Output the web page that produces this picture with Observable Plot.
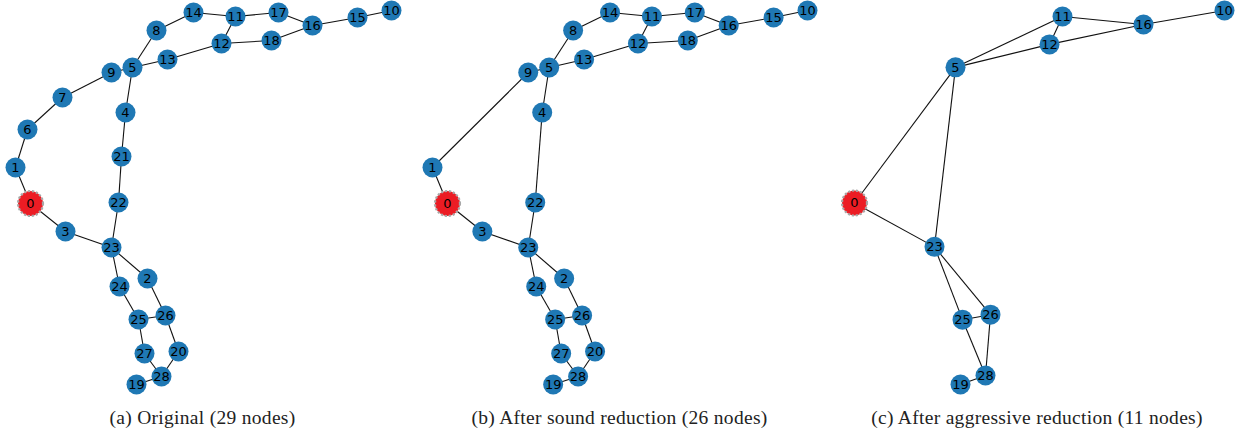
<!DOCTYPE html>
<html>
<head>
<meta charset="utf-8">
<script src="https://cdn.jsdelivr.net/npm/d3@7"></script>
<script src="https://cdn.jsdelivr.net/npm/@observablehq/plot@0.6"></script>
<style>
  body { margin: 0; background: #fff; }
  #row { display: flex; width: 1239px; }
  .panel { width: 413px; }
  .panel svg { display: block; }
  .caption {
    font-family: "Liberation Serif", "Times New Roman", serif;
    font-size: 19.5px;
    letter-spacing: 0.3px;
    line-height: 22px;
    text-align: center;
    color: #222;
    margin-top: 5px;
    white-space: nowrap;
  }
</style>
</head>
<body>
<div id="row"></div>
<script>
// Full graph layout (shared by the original and the sound-reduced graph)
const nodeIds = [0, 1, 2, 3, 4, 5, 6, 7, 8, 9, 10, 11, 12, 13, 14, 15, 16, 17, 18, 19, 20, 21, 22, 23, 24, 25, 26, 27, 28];
const layoutX = [30, 15, 147, 65, 125, 132, 27, 62, 156, 111, 391, 235, 221, 167, 193, 357, 312, 278, 271, 136, 178, 121, 118, 111, 119, 138, 165, 144, 161];
const layoutY = [203, 167, 278, 231, 112, 67, 129, 97, 30, 72, 10, 16, 43, 59, 12, 17, 25, 12, 40, 384, 351, 156, 202, 247, 286, 319, 315, 353, 376];

// Layout of the aggressively reduced graph
const reducedIds = [0, 5, 10, 11, 12, 16, 19, 23, 25, 26, 28];
const reducedX = [28, 129, 398, 236, 223, 317, 134, 108, 136, 164, 159];
const reducedY = [203, 67, 10, 16, 44, 24, 385, 247, 320, 315, 376];

// Nodes removed by the sound reduction
const soundRemoved = [6, 7, 21];

const originalEdges = [
  [0, 1], [1, 6], [6, 7], [7, 9], [9, 5], [5, 8], [8, 14], [14, 11], [11, 17], [17, 16],
  [16, 15], [15, 10], [11, 12], [12, 18], [18, 16], [5, 13], [13, 12], [5, 4], [4, 21],
  [21, 22], [22, 23], [0, 3], [3, 23], [23, 24], [23, 2], [24, 25], [2, 26], [25, 26],
  [26, 20], [25, 27], [27, 28], [20, 28], [28, 19]
];
const soundEdges = [
  [0, 1], [1, 9], [9, 5], [5, 8], [8, 14], [14, 11], [11, 17], [17, 16],
  [16, 15], [15, 10], [11, 12], [12, 18], [18, 16], [5, 13], [13, 12], [5, 4],
  [4, 22], [22, 23], [0, 3], [3, 23], [23, 24], [23, 2], [24, 25], [2, 26], [25, 26],
  [26, 20], [25, 27], [27, 28], [20, 28], [28, 19]
];
const aggressiveEdges = [
  [0, 5], [0, 23], [5, 23], [5, 11], [5, 12], [11, 12], [11, 16], [12, 16], [16, 10],
  [23, 25], [23, 26], [25, 26], [25, 28], [26, 28], [28, 19]
];

const captions = [
  "(a) Original (29 nodes)",
  "(b) After sound reduction (26 nodes)",
  "(c) After aggressive reduction (11 nodes)"
];
const sourceNode = 0;

function nodeTable(ids, xs, ys, keep = () => true) {
  return ids.map((id, i) => ({id, x: xs[i], y: ys[i]})).filter(d => keep(d.id));
}

const fullNodes = nodeTable(nodeIds, layoutX, layoutY);
const soundNodes = nodeTable(nodeIds, layoutX, layoutY, id => !soundRemoved.includes(id));
const aggressiveNodes = nodeTable(reducedIds, reducedX, reducedY);

const panels = [
  {nodes: fullNodes, edges: originalEdges, caption: captions[0], ml: 15, mr: 22, shift: -4},
  {nodes: soundNodes, edges: soundEdges, caption: captions[1], ml: 19, mr: 19, shift: 0},
  {nodes: aggressiveNodes, edges: aggressiveEdges, caption: captions[2], ml: 28, mr: 15, shift: 4.5}
];

const W = 413, H = 402, MT = 10, MB = 18;

for (const p of panels) {
  const pos = new Map(p.nodes.map(d => [d.id, d]));
  const links = p.edges.map(([a, b]) => ({x1: pos.get(a).x, y1: pos.get(a).y, x2: pos.get(b).x, y2: pos.get(b).y}));
  const others = p.nodes.filter(d => d.id !== sourceNode);
  const source = p.nodes.filter(d => d.id === sourceNode);

  const chart = Plot.plot({
    width: W,
    height: H,
    marginLeft: p.ml,
    marginRight: p.mr,
    marginTop: MT,
    marginBottom: MB,
    x: {domain: d3.extent(p.nodes, d => d.x), range: [p.ml, W - p.mr], axis: null},
    y: {domain: d3.extent(p.nodes, d => d.y), range: [MT, H - MB], axis: null},
    style: {background: "transparent", overflow: "visible"},
    marks: [
      Plot.link(links, {x1: "x1", y1: "y1", x2: "x2", y2: "y2", stroke: "#111", strokeWidth: 1.1}),
      Plot.dot(others, {x: "x", y: "y", r: 10, fill: "#1f78b4", stroke: "none"}),
      Plot.dot(source, {x: "x", y: "y", r: 12.5, fill: "#ec1c24", stroke: "#a8a8a8", strokeWidth: 2.2, strokeDasharray: "2.2,1.8"}),
      Plot.text(p.nodes, {x: "x", y: "y", text: d => String(d.id), fill: "#000", fontSize: 13, fontFamily: "DejaVu Sans"})
    ]
  });

  const panel = document.createElement("div");
  panel.className = "panel";
  panel.appendChild(chart);
  const cap = document.createElement("div");
  cap.className = "caption";
  cap.style.transform = `translateX(${p.shift}px)`;
  cap.textContent = p.caption;
  panel.appendChild(cap);
  document.getElementById("row").appendChild(panel);
}
</script>
</body>
</html>
